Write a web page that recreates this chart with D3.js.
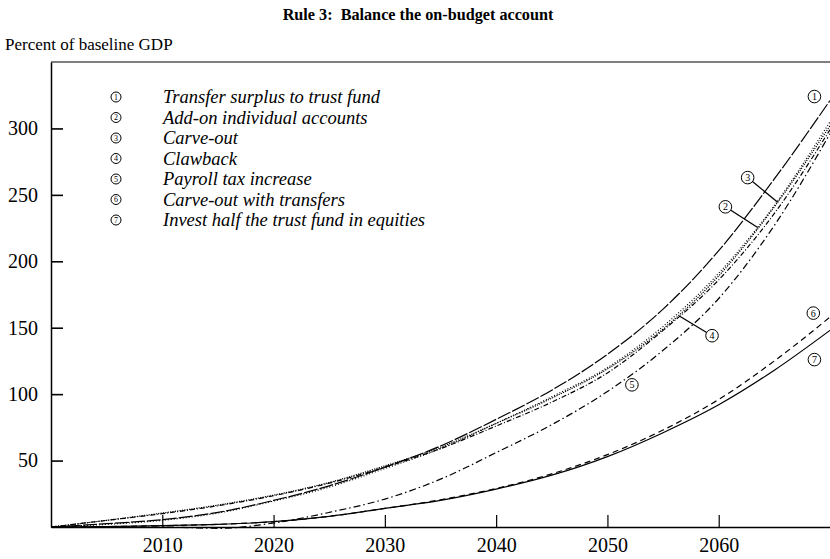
<!DOCTYPE html>
<html>
<head>
<meta charset="utf-8">
<script src="https://cdn.jsdelivr.net/npm/d3@7"></script>
<style>
  html, body { margin: 0; padding: 0; background: #fff; }
  svg { display: block; }
  text { font-family: "Liberation Serif", "Times New Roman", serif; fill: #000; }
</style>
</head>
<body>
<svg id="chart" width="830" height="559"></svg>
<script>
// Projection years (5-year steps)
const years = [2000, 2005, 2010, 2015, 2020, 2025, 2030, 2035, 2040, 2045, 2050, 2055, 2060, 2065, 2070];

// Series values, percent of baseline GDP
const transferSurplus   = [0, 2.5, 5.5, 11, 20, 31, 45, 61, 81, 103, 130, 164, 208, 262, 321];
const addOnAccounts     = [0, 2, 5, 10.5, 19.5, 30, 44, 59, 78, 98, 120, 151, 191, 242, 305];
const carveOut          = [0, 5, 10.5, 16.5, 24, 33.5, 46, 60, 78, 97, 119, 149, 189, 241, 302];
const clawback          = [0, 5, 10, 16, 23.5, 33, 45, 59, 76, 94, 116, 148, 186, 236, 299];
const payrollTax        = [0, 0, 0, -1, 3, 11, 21, 36, 56, 77, 102, 133, 172, 227, 296];
const carveOutTransfers = [0, 0.3, 1, 2, 4, 8, 14, 20.5, 29, 40, 54.5, 73, 96, 125, 158];
const investEquities    = [0, 0.3, 1, 2, 4, 8, 14, 20, 28.5, 39, 53, 71, 92, 118, 148];

const seriesNames = [
  "Transfer surplus to trust fund",
  "Add-on individual accounts",
  "Carve-out",
  "Clawback",
  "Payroll tax increase",
  "Carve-out with transfers",
  "Invest half the trust fund in equities"
];
const seriesValues = [transferSurplus, addOnAccounts, carveOut, clawback, payrollTax, carveOutTransfers, investEquities];

const yTicks = [50, 100, 150, 200, 250, 300];
const xTicks = [2010, 2020, 2030, 2040, 2050, 2060];

// Line styles per series
const dashes = ["14,2", "1,2", "1.2,1.2", "5,2,1,2", "7,3,1.5,3", "6,4", null];

// Callout labels: series number, label position (year, value), year where the leader meets the line
const callouts = [
  { n: 1, lx: 2068.6, ly: 324, ax: null },
  { n: 2, lx: 2060.6, ly: 241, ax: 2063.5 },
  { n: 3, lx: 2062.6, ly: 263, ax: 2065.3 },
  { n: 4, lx: 2059.4, ly: 144, ax: 2056.5 },
  { n: 5, lx: 2052.2, ly: 107, ax: null },
  { n: 6, lx: 2068.5, ly: 161, ax: null },
  { n: 7, lx: 2068.6, ly: 126, ax: null }
];

const svg = d3.select("#chart");
const plotLeft = 51, plotRight = 830, plotTop = 62, plotBottom = 527;

const x = d3.scaleLinear().domain([2000, 2070]).range([plotLeft, plotRight]);
const y = d3.scaleLinear().domain([0, 350]).range([plotBottom, plotTop]);

// Title and unit label
svg.append("text")
  .attr("x", 418).attr("y", 20)
  .attr("text-anchor", "middle")
  .style("white-space", "pre")
  .style("font-weight", "bold").style("font-size", "16.2px")
  .text("Rule 3:  Balance the on-budget account");

svg.append("text")
  .attr("x", 5).attr("y", 50)
  .style("font-size", "17px")
  .text("Percent of baseline GDP");

// Clip for the plot area
svg.append("clipPath").attr("id", "plot-clip")
  .append("rect").attr("x", plotLeft).attr("y", plotTop)
  .attr("width", plotRight - plotLeft).attr("height", plotBottom - plotTop + 4);

// Series lines
const line = d3.line()
  .x((d, i) => x(years[i]))
  .y(d => y(d))
  .curve(d3.curveMonotoneX);

const plot = svg.append("g").attr("clip-path", "url(#plot-clip)");
seriesValues.forEach((vals, i) => {
  plot.append("path")
    .datum(vals)
    .attr("d", line)
    .attr("fill", "none")
    .attr("stroke", "#000")
    .attr("stroke-width", 1.2)
    .attr("stroke-dasharray", dashes[i]);
});

// Axes (ticks point inward)
const yAxis = d3.axisLeft(y).tickValues(yTicks).tickSizeInner(-12).tickSizeOuter(0).tickPadding(13);
const gy = svg.append("g").attr("transform", `translate(${plotLeft},0)`).call(yAxis);
gy.select(".domain").attr("stroke-width", 1.5);
gy.selectAll(".tick line").attr("stroke-width", 1.6);
gy.selectAll(".tick text").style("font-size", "20px").style("font-family", "Liberation Serif, serif");

const xAxis = d3.axisBottom(x).tickValues(xTicks).tickFormat(d3.format("d")).tickSizeInner(-12).tickSizeOuter(0).tickPadding(11);
const gx = svg.append("g").attr("transform", `translate(0,${plotBottom})`).call(xAxis);
gx.select(".domain").attr("stroke-width", 1.5);
gx.selectAll(".tick line").attr("stroke-width", 1.2);
gx.selectAll(".tick text").style("font-size", "20px").style("font-family", "Liberation Serif, serif");

// Top frame line
svg.append("line")
  .attr("x1", plotLeft).attr("x2", plotRight).attr("y1", plotTop).attr("y2", plotTop)
  .attr("stroke", "#000").attr("stroke-width", 1.2);

// Screen y of a series line at a given year (for leader ends)
function screenYAt(vals, yr) {
  const tmp = svg.append("path").attr("d", line(vals)).attr("fill", "none");
  const node = tmp.node();
  const px = x(yr);
  let lo = 0, hi = node.getTotalLength();
  for (let k = 0; k < 40; k++) {
    const mid = (lo + hi) / 2;
    if (node.getPointAtLength(mid).x < px) lo = mid; else hi = mid;
  }
  const pt = node.getPointAtLength(lo);
  tmp.remove();
  return pt.y;
}

function circled(g, cx, cy, r, n, fs) {
  g.append("circle").attr("cx", cx).attr("cy", cy).attr("r", r)
    .attr("fill", "#fff").attr("stroke", "#000").attr("stroke-width", 1);
  g.append("text").attr("x", cx).attr("y", cy)
    .attr("text-anchor", "middle").attr("dominant-baseline", "central")
    .style("font-size", fs + "px").text(n);
}

// Callouts with leaders
const cg = svg.append("g");
callouts.forEach(c => {
  if (c.ax !== null) {
    cg.append("line")
      .attr("x1", x(c.lx)).attr("y1", y(c.ly))
      .attr("x2", x(c.ax)).attr("y2", screenYAt(seriesValues[c.n - 1], c.ax))
      .attr("stroke", "#000").attr("stroke-width", 1.3);
  }
});
callouts.forEach(c => circled(cg, x(c.lx), y(c.ly), 6.3, c.n, 10));

// Legend
const lg = svg.append("g");
seriesNames.forEach((name, i) => {
  const ry = 97 + i * 20.5;
  circled(lg, 116, ry, 5, i + 1, 8);
  lg.append("text").attr("x", 163).attr("y", ry)
    .attr("dominant-baseline", "central")
    .style("font-style", "italic").style("font-size", "18.5px")
    .text(name);
});
</script>
</body>
</html>
